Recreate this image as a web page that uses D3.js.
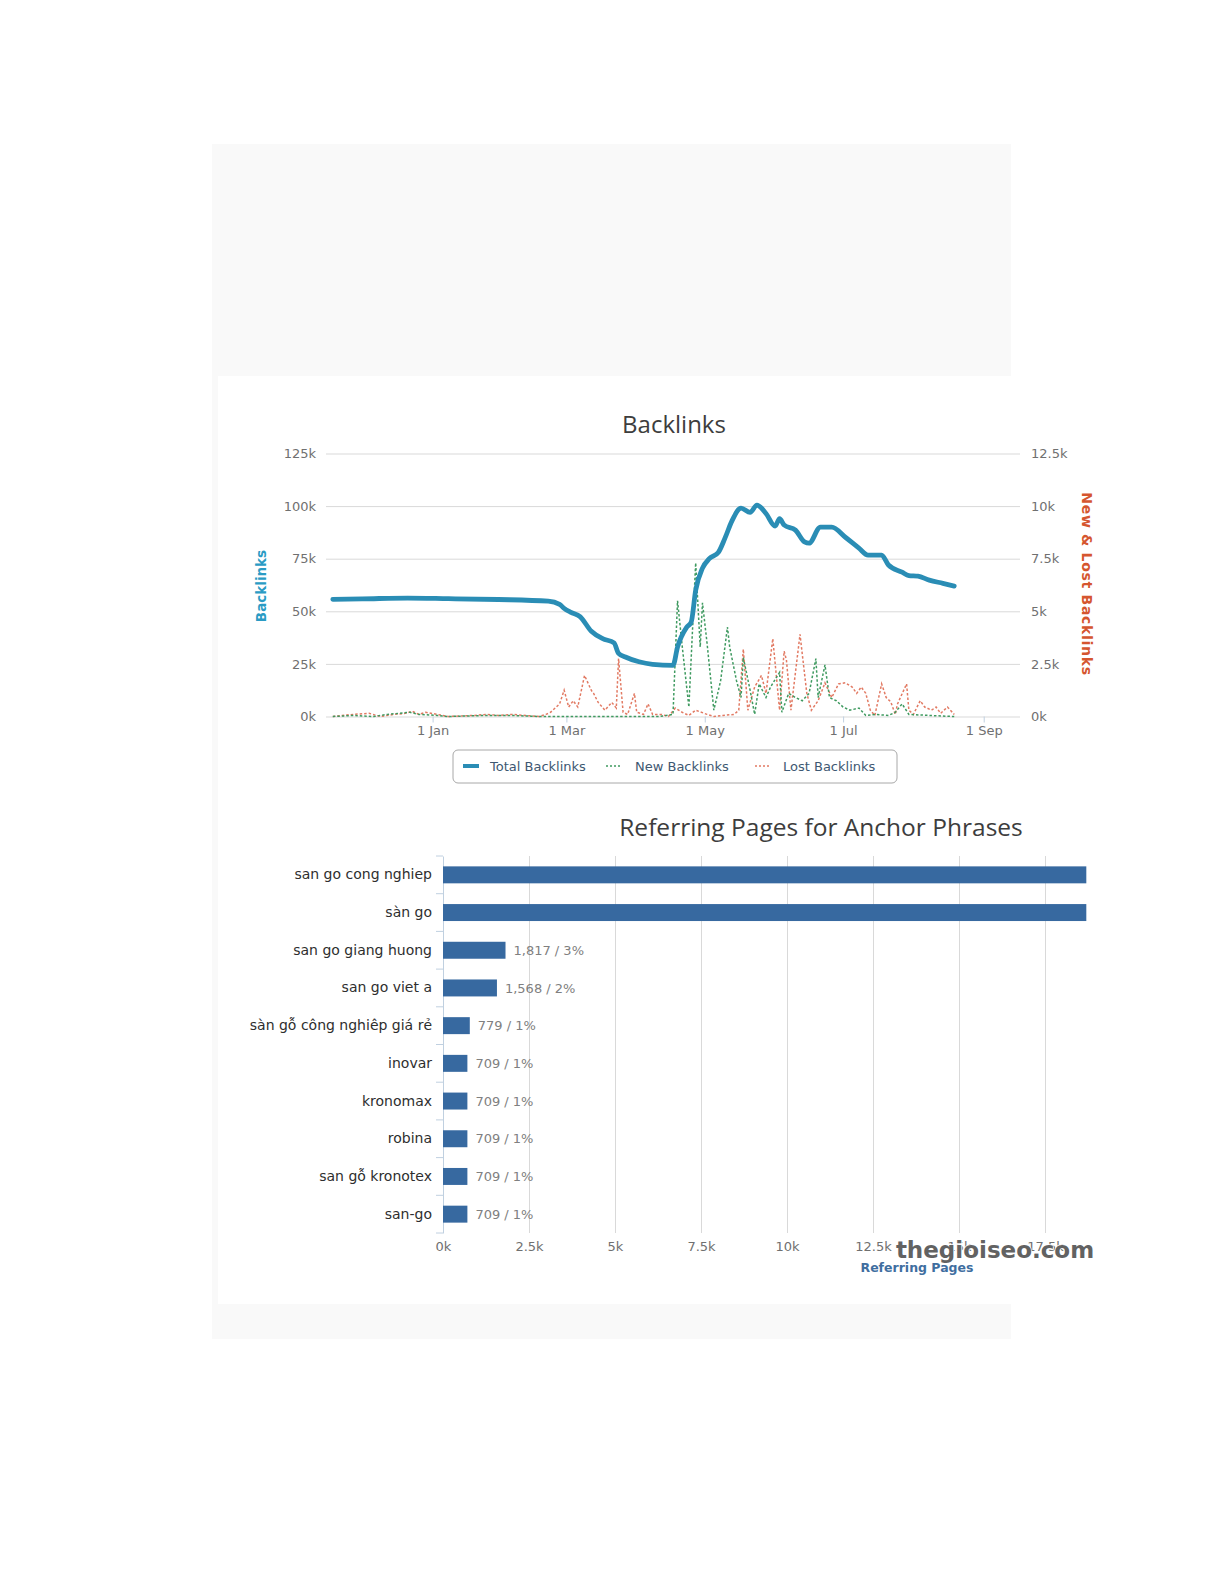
<!DOCTYPE html>
<html><head><meta charset="utf-8">
<script src="https://cdn.jsdelivr.net/npm/d3@7"></script>
<style>body{margin:0;background:#fff;} svg{display:block;}</style>
</head><body>
<svg id="c" width="1225" height="1585"></svg>
<script>
// ---------- DATA ----------
const totalDates = ["2013-11-18","2013-12-01","2013-12-21","2014-01-08","2014-01-30","2014-02-21","2014-02-26","2014-02-28","2014-03-03","2014-03-07","2014-03-12","2014-03-17","2014-03-22","2014-03-24","2014-03-27","2014-04-02","2014-04-08","2014-04-17","2014-04-19","2014-04-23","2014-04-25","2014-04-27","2014-04-30","2014-05-03","2014-05-07","2014-05-10","2014-05-13","2014-05-17","2014-05-21","2014-05-24","2014-05-28","2014-06-01","2014-06-03","2014-06-05","2014-06-10","2014-06-14","2014-06-16","2014-06-21","2014-06-26","2014-07-02","2014-07-08","2014-07-12","2014-07-18","2014-07-21","2014-07-27","2014-07-30","2014-08-03","2014-08-08","2014-08-14","2014-08-19"];
const totalValues = [55700,55900,56300,56000,55600,54800,53300,51400,49500,47500,40500,37000,35000,30000,28300,26000,24800,24300,33000,42400,44800,60000,70500,75000,78000,85000,93000,99000,97000,100500,96500,90500,94000,91000,88600,83000,82400,90000,90000,85200,80000,76700,76700,72000,68600,67000,66700,64800,63300,62000];

const newDates = ["2013-11-18","2013-11-27","2013-12-06","2013-12-12","2013-12-17","2013-12-22","2013-12-26","2014-01-03","2014-01-08","2014-01-25","2014-02-05","2014-02-17","2014-03-10","2014-04-11","2014-04-17","2014-04-19","2014-04-21","2014-04-24","2014-04-27","2014-04-29","2014-04-30","2014-05-02","2014-05-05","2014-05-08","2014-05-11","2014-05-12","2014-05-15","2014-05-17","2014-05-18","2014-05-21","2014-05-23","2014-05-25","2014-05-28","2014-05-30","2014-06-03","2014-06-04","2014-06-07","2014-06-10","2014-06-13","2014-06-16","2014-06-19","2014-06-20","2014-06-23","2014-06-25","2014-06-28","2014-07-01","2014-07-04","2014-07-08","2014-07-11","2014-07-15","2014-07-21","2014-07-24","2014-07-27","2014-07-30","2014-08-08","2014-08-19"];
const newValues = [0,50,0,100,150,200,100,50,0,50,50,0,0,0,100,5500,3400,450,7300,3300,5400,3500,300,1700,4250,3300,1700,900,2800,1250,100,1550,900,1400,2100,200,1100,900,750,1100,2750,900,2450,900,750,450,300,400,50,100,50,200,600,100,50,0];

const lostDates = ["2013-11-18","2013-11-27","2013-12-04","2013-12-09","2013-12-15","2013-12-20","2013-12-23","2013-12-26","2013-12-29","2014-01-03","2014-01-08","2014-01-19","2014-01-25","2014-01-30","2014-02-05","2014-02-11","2014-02-17","2014-02-20","2014-02-22","2014-02-26","2014-02-28","2014-03-02","2014-03-04","2014-03-06","2014-03-09","2014-03-12","2014-03-13","2014-03-15","2014-03-18","2014-03-21","2014-03-23","2014-03-24","2014-03-26","2014-03-28","2014-03-31","2014-04-01","2014-04-04","2014-04-06","2014-04-08","2014-04-12","2014-04-15","2014-04-18","2014-04-21","2014-04-24","2014-04-27","2014-05-02","2014-05-05","2014-05-09","2014-05-14","2014-05-16","2014-05-18","2014-05-20","2014-05-23","2014-05-26","2014-05-28","2014-05-31","2014-06-03","2014-06-05","2014-06-06","2014-06-08","2014-06-12","2014-06-15","2014-06-17","2014-06-20","2014-06-23","2014-06-26","2014-06-29","2014-07-02","2014-07-05","2014-07-07","2014-07-09","2014-07-11","2014-07-13","2014-07-15","2014-07-18","2014-07-20","2014-07-22","2014-07-24","2014-07-25","2014-07-29","2014-07-30","2014-08-01","2014-08-04","2014-08-06","2014-08-09","2014-08-11","2014-08-13","2014-08-16","2014-08-19"];
const lostValues = [0,100,150,0,100,150,250,100,200,100,0,50,100,50,100,50,0,100,200,600,1250,450,750,450,1950,1240,1100,670,300,670,400,2750,200,100,1100,200,100,600,100,100,0,400,200,50,300,100,0,50,100,300,3200,300,1400,1950,1100,3700,300,3100,2700,300,3900,1100,300,750,1600,900,1550,1600,1400,1100,1400,1100,300,50,1550,900,700,100,600,1550,300,100,750,450,300,450,150,450,100];

const xTickDates = ["2014-01-01","2014-03-01","2014-05-01","2014-07-01","2014-09-01"];
const leftTicks = [0,25000,50000,75000,100000,125000];
const rightTicks = [0,2500,5000,7500,10000,12500];
const seriesNames = ["Total Backlinks","New Backlinks","Lost Backlinks"];

const anchorPhrases = ["san go cong nghiep","sàn go","san go giang huong","san go viet a","sàn gỗ công nghiêp giá rẻ","inovar","kronomax","robina","san gỗ kronotex","san-go"];
const anchorPages = [18700,18700,1817,1568,779,709,709,709,709,709];
const anchorPercents = [null,null,3,2,1,1,1,1,1,1];
const barTicks = [0,2500,5000,7500,10000,12500,15000,17500];

// ---------- SETUP ----------
const svg = d3.select("#c");
const FONT = "'DejaVu Sans', Verdana, sans-serif";
const parse = d3.timeParse("%Y-%m-%d");

// background panels
svg.append("rect").attr("x",212).attr("y",144).attr("width",799).attr("height",1195).attr("fill","#f9f9f9");
svg.append("rect").attr("x",218).attr("y",376).attr("width",890).attr("height",928).attr("fill","#ffffff");

// ---------- TOP CHART ----------
const x = d3.scaleTime().domain([parse("2013-11-15"), parse("2014-09-17")]).range([326, 1020]);
const yL = d3.scaleLinear().domain([0,125000]).range([716.5,453.5]);
const yR = d3.scaleLinear().domain([0,12500]).range([716.5,453.5]);
const kfmt = d => (d/1000) + "k";

svg.append("text").attr("x",674).attr("y",433).attr("text-anchor","middle")
  .attr("font-family","'Open Sans', sans-serif").attr("font-size",24).attr("fill","#3d3d3d").text("Backlinks");

const gL = svg.append("g").attr("transform","translate(326,0)")
  .call(d3.axisLeft(yL).tickValues(leftTicks).tickSize(-694).tickPadding(10).tickFormat(kfmt));
gL.select(".domain").remove();
gL.selectAll("line").attr("stroke","#d9d9d9");
gL.selectAll("text").attr("font-family",FONT).attr("font-size",13).attr("fill","#707070");

const gR = svg.append("g").attr("transform","translate(1020,0)")
  .call(d3.axisRight(yR).tickValues(rightTicks).tickSize(0).tickPadding(11).tickFormat(kfmt));
gR.select(".domain").remove();
gR.selectAll("text").attr("font-family",FONT).attr("font-size",13).attr("fill","#707070");

const gX = svg.append("g").attr("transform","translate(0,716.5)")
  .call(d3.axisBottom(x).tickValues(xTickDates.map(parse)).tickSize(6).tickPadding(3).tickFormat(d3.timeFormat("%-d %b")));
gX.select(".domain").remove();
gX.selectAll("line").attr("stroke","#c0d0e0");
gX.selectAll("text").attr("font-family",FONT).attr("font-size",13).attr("fill","#707070");

svg.append("text").attr("transform","translate(266,586) rotate(-90)").attr("text-anchor","middle")
  .attr("font-family",FONT).attr("font-weight","bold").attr("font-size",13.5).attr("fill","#2a9bc4").text("Backlinks");
svg.append("text").attr("transform","translate(1082,584) rotate(90)").attr("text-anchor","middle")
  .attr("font-family",FONT).attr("font-weight","bold").attr("font-size",14).attr("letter-spacing",0.7)
  .attr("fill","#d5562f").text("New & Lost Backlinks");

const lineR = d3.line().x(d=>x(d[0])).y(d=>yR(d[1]));
const lineL = d3.line().x(d=>x(d[0])).y(d=>yL(d[1])).curve(d3.curveMonotoneX);

const newData = newDates.map((d,i)=>[parse(d), newValues[i]]);
const lostData = lostDates.map((d,i)=>[parse(d), lostValues[i]]);
const totalData = totalDates.map((d,i)=>[parse(d), totalValues[i]]);

const colTotal = "#2a8db5", colNew = "#3f9a60", colLost = "#e27a63";

svg.append("path").datum(lostData).attr("d",lineR).attr("fill","none")
  .attr("stroke",colLost).attr("stroke-width",1.5).attr("stroke-dasharray","2.5,2");
svg.append("path").datum(newData).attr("d",lineR).attr("fill","none")
  .attr("stroke",colNew).attr("stroke-width",1.5).attr("stroke-dasharray","2.5,2");
svg.append("path").datum(totalData).attr("d",lineL).attr("fill","none")
  .attr("stroke",colTotal).attr("stroke-width",4.8).attr("stroke-linejoin","round").attr("stroke-linecap","round");

// legend
svg.append("rect").attr("x",453).attr("y",750).attr("width",444).attr("height",33).attr("rx",5)
  .attr("fill","#fff").attr("stroke","#a8a8a8").attr("stroke-width",1);
const legendItems = [
  {sx:463, tx:490, color:colTotal, w:4, dash:null},
  {sx:606, tx:635, color:colNew, w:1.4, dash:"2,2"},
  {sx:755, tx:783, color:colLost, w:1.4, dash:"2,2"}
];
legendItems.forEach((it,i)=>{
  svg.append("line").attr("x1",it.sx).attr("x2",it.sx+16).attr("y1",766).attr("y2",766)
    .attr("stroke",it.color).attr("stroke-width",it.w).attr("stroke-dasharray",it.dash);
  svg.append("text").attr("x",it.tx).attr("y",771).attr("font-family",FONT).attr("font-size",13)
    .attr("fill","#3e5872").text(seriesNames[i]);
});

// ---------- BOTTOM CHART ----------
svg.append("text").attr("x",821).attr("y",836).attr("text-anchor","middle")
  .attr("font-family","'Open Sans', sans-serif").attr("font-size",24.5).attr("fill","#3d3d3d").text("Referring Pages for Anchor Phrases");

const xB = d3.scaleLinear().domain([0,18720]).range([443,1087]);
const yB = d3.scaleBand().domain(anchorPhrases).range([856,1233]).paddingInner(0.55).paddingOuter(0.275);

const gGrid = svg.append("g").attr("transform","translate(0,1233)")
  .call(d3.axisBottom(xB).tickValues(barTicks.slice(1)).tickSize(-377).tickFormat(""));
gGrid.select(".domain").remove();
gGrid.selectAll("line").attr("stroke","#d9d9d9");

const gBX = svg.append("g").attr("transform","translate(0,1233)")
  .call(d3.axisBottom(xB).tickValues(barTicks).tickSize(0).tickPadding(9).tickFormat(kfmt));
gBX.select(".domain").remove();
gBX.selectAll("text").attr("font-family",FONT).attr("font-size",13).attr("fill","#707070");

const gBY = svg.append("g").attr("transform","translate(443,0)")
  .call(d3.axisLeft(yB).tickSize(0).tickPadding(11));
gBY.select(".domain").attr("stroke","#c0d0e0");
gBY.selectAll("text").attr("font-family",FONT).attr("font-size",14).attr("fill","#2e2e2e");

// category boundary ticks
const bounds = anchorPhrases.map(d => yB(d) + yB.bandwidth()/2 - yB.step()/2).concat([yB(anchorPhrases[anchorPhrases.length-1]) + yB.bandwidth()/2 + yB.step()/2]);
svg.append("g").selectAll("line").data(bounds).join("line")
  .attr("x1",436).attr("x2",443).attr("y1",d=>d).attr("y2",d=>d).attr("stroke","#c0d0e0");

svg.append("g").selectAll("rect").data(anchorPhrases).join("rect")
  .attr("x",xB(0)).attr("y",d=>yB(d)).attr("height",yB.bandwidth())
  .attr("width",(d,i)=>xB(anchorPages[i])-xB(0)).attr("fill","#3769a0");

svg.append("g").selectAll("text").data(anchorPhrases.filter((d,i)=>anchorPercents[i]!==null)).join("text")
  .attr("x",d=>xB(anchorPages[anchorPhrases.indexOf(d)])+8)
  .attr("y",d=>yB(d)+yB.bandwidth()/2).attr("dy","0.35em")
  .attr("font-family",FONT).attr("font-size",13).attr("fill","#808080")
  .text(d=>{const i=anchorPhrases.indexOf(d); return d3.format(",")(anchorPages[i])+" / "+anchorPercents[i]+"%";});

svg.append("text").attr("x",917).attr("y",1272).attr("text-anchor","middle")
  .attr("font-family",FONT).attr("font-weight","bold").attr("font-size",12.5).attr("fill","#3f6e9f").text("Referring Pages");

// watermark
svg.append("text").attr("x",995).attr("y",1258).attr("text-anchor","middle")
  .attr("font-family",FONT).attr("font-weight","bold").attr("font-size",23)
  .attr("fill","#626262").attr("stroke","#ffffff").attr("stroke-width",1.5).attr("paint-order","stroke")
  .text("thegioiseo.com");
</script>
</body></html>
